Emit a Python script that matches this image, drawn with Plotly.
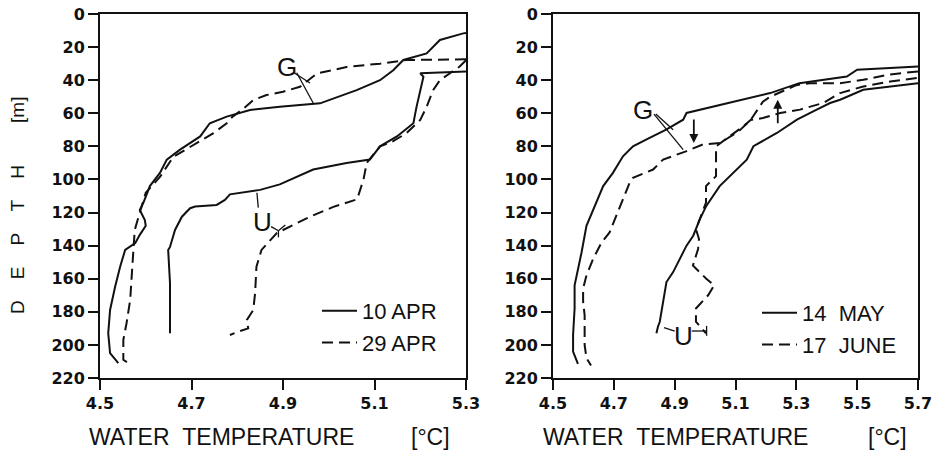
import plotly.graph_objects as go

# ---------------- data (temperature °C, depth m) ----------------
# Left panel: 10 APR (solid) and 29 APR (dashed)
g_apr10_t = [5.300, 5.294, 5.243, 5.214, 5.163, 5.141, 5.112, 5.061, 4.981, 4.893, 4.828, 4.777,
             4.740, 4.719, 4.675, 4.646, 4.631, 4.609, 4.595, 4.587, 4.598, 4.600, 4.587, 4.577,
             4.555, 4.544, 4.533, 4.522, 4.518, 4.522, 4.540]
g_apr10_d = [11.5, 11.7, 15.7, 23.8, 27.8, 34, 40, 46, 54, 56, 58, 62,
             66, 74, 82, 88, 96, 104, 114, 118.5, 124.5, 128, 133.5, 138.5,
             142.6, 152.7, 164.8, 178.9, 193, 205, 211]

u_apr10_t = [5.300, 5.200, 5.207, 5.200, 5.192, 5.185, 5.149, 5.112, 5.090, 5.039, 4.966, 4.893,
             4.850, 4.784, 4.773, 4.755, 4.708, 4.697, 4.679, 4.664, 4.653, 4.649, 4.653, 4.653]
u_apr10_d = [34.8, 35.8, 37.9, 46, 56, 66, 74, 80, 88, 90, 94, 103,
             106.3, 109, 112.4, 115.4, 116.4, 117.4, 122.5, 130.5, 140.8, 142.6, 162.7, 193]

g_apr29_t = [5.300, 5.170, 5.112, 5.039, 4.974, 4.937, 4.900, 4.864, 4.835, 4.810, 4.790, 4.777,
             4.748, 4.712, 4.660, 4.631, 4.600, 4.587, 4.576, 4.573, 4.569, 4.566, 4.558, 4.551,
             4.551, 4.562]
g_apr29_d = [27.4, 27.8, 30, 32, 36, 44, 47, 49, 52, 58, 62, 66,
             72, 78, 86.4, 98.5, 108, 120, 130.5, 142.6, 156.7, 172.8, 186.9, 197,
             209, 211]

u_apr29_t = [5.300, 5.285, 5.265, 5.243, 5.228, 5.214, 5.200, 5.170, 5.140, 5.112, 5.083, 5.076,
             5.062, 5.010, 4.959, 4.915, 4.886, 4.853, 4.842, 4.839, 4.835, 4.821, 4.824, 4.802,
             4.784]
u_apr29_d = [28, 32, 35.8, 40, 46, 56, 64, 72, 77, 80, 90, 100,
             112, 116.6, 122.5, 128.5, 132.5, 142.6, 152.7, 168.8, 178.9, 184.9, 190, 192,
             194]

# Right panel: 14 MAY (solid) and 17 JUNE (dashed)
g_may14_t = [5.700, 5.500, 5.466, 5.310, 5.214, 5.080, 5.015, 4.939, 4.928, 4.872, 4.806, 4.763,
             4.730, 4.697, 4.665, 4.632, 4.610, 4.594, 4.582, 4.571, 4.571, 4.566, 4.566, 4.582]
g_may14_d = [31.7, 33.7, 37.8, 41.8, 47.8, 53.8, 56.8, 59.8, 63.9, 69.9, 75.9, 80,
             86, 96, 104, 118, 128, 144, 154, 164, 178, 194, 204, 211.4]

u_may14_t = [5.700, 5.609, 5.520, 5.444, 5.411, 5.367, 5.302, 5.236, 5.159, 5.137, 5.082, 5.048,
             5.004, 4.983, 4.961, 4.939, 4.917, 4.895, 4.873, 4.862, 4.851, 4.845, 4.840]
u_may14_d = [41.8, 43.8, 45.8, 51.8, 53.8, 57.8, 63.9, 71.9, 79.9, 88, 98, 104,
             116, 124, 134, 140, 148, 156, 162, 174, 186, 189, 193]

g_jun17_t = [5.700, 5.600, 5.520, 5.444, 5.345, 5.300, 5.214, 5.190, 5.150, 5.110, 5.049, 4.990,
             4.937, 4.862, 4.829, 4.763, 4.752, 4.730, 4.709, 4.686, 4.660, 4.632, 4.610, 4.599,
             4.599, 4.604, 4.604, 4.604, 4.610, 4.625]
g_jun17_d = [34.7, 36.7, 39.8, 41.8, 41.8, 43, 50, 53, 64, 71, 78, 79,
             83, 88, 94, 99, 102, 112, 122, 132, 138, 148, 158, 166,
             174, 182, 190, 200, 208, 212.5]

u_jun17_t = [5.696, 5.609, 5.520, 5.444, 5.388, 5.312, 5.247, 5.190, 5.150, 5.125, 5.080, 5.036,
             5.036, 5.036, 5.003, 5.003, 4.970, 4.980, 4.977, 4.960, 5.004, 5.030, 5.010, 4.970,
             4.970, 5.003]
u_jun17_d = [38.7, 40.8, 43.8, 47.8, 53.8, 57.8, 59.8, 62.9, 64, 68, 74, 80,
             90, 98, 104, 114, 130, 136, 142, 152, 160, 164, 170, 178,
             186, 193]

left_ticks = [4.5, 4.7, 4.9, 5.1, 5.3]
right_ticks = [4.5, 4.7, 4.9, 5.1, 5.3, 5.5, 5.7]
depth_ticks = [0, 20, 40, 60, 80, 100, 120, 140, 160, 180, 200, 220]
legend_left = ["10 APR", "29 APR"]
legend_right = ["14  MAY", "17  JUNE"]

# ---------------- figure ----------------
BLACK = "#111111"
FONT = "Liberation Sans, Arial, sans-serif"
TICKFONT = "DejaVu Sans, Verdana, sans-serif"
SOLID = dict(color=BLACK, width=2)
DASH = dict(color=BLACK, width=2, dash="11px,6px")

W, H = 946, 455


def fx(px):
    return px / W


def fy(py):
    return 1 - py / H


fig = go.Figure()


def add(t, d, line, name, show, xa, ya, leg):
    fig.add_trace(go.Scatter(x=t, y=d, mode="lines", line=line, name=name,
                             showlegend=show, xaxis=xa, yaxis=ya, legend=leg,
                             hoverinfo="skip"))


add(g_apr10_t, g_apr10_d, SOLID, legend_left[0], True, "x", "y", "legend")
add(u_apr10_t, u_apr10_d, SOLID, legend_left[0], False, "x", "y", "legend")
add(g_apr29_t, g_apr29_d, DASH, legend_left[1], True, "x", "y", "legend")
add(u_apr29_t, u_apr29_d, DASH, legend_left[1], False, "x", "y", "legend")

add(g_may14_t, g_may14_d, SOLID, legend_right[0], True, "x2", "y2", "legend2")
add(u_may14_t, u_may14_d, SOLID, legend_right[0], False, "x2", "y2", "legend2")
add(g_jun17_t, g_jun17_d, DASH, legend_right[1], True, "x2", "y2", "legend2")
add(u_jun17_t, u_jun17_d, DASH, legend_right[1], False, "x2", "y2", "legend2")

ydom = [fy(378), fy(14)]

axis_common = dict(showline=True, mirror=True, linecolor=BLACK, linewidth=2,
                   ticks="outside", ticklen=10, tickwidth=2, tickcolor=BLACK,
                   showgrid=False, zeroline=False, automargin=False,
                   ticklabeloverflow="allow",
                   tickfont=dict(family=TICKFONT, size=16, color=BLACK, weight="bold"))

legend_font = dict(family=FONT, size=22, color=BLACK)
fig.update_layout(
    template="none",
    width=W, height=H,
    margin=dict(l=0, r=0, t=0, b=0, autoexpand=False),
    paper_bgcolor="white", plot_bgcolor="white",
    xaxis=dict(domain=[fx(100), fx(466)], range=[4.5, 5.3], tickvals=left_ticks,
               ticktext=[f"{v:.1f}" for v in left_ticks], anchor="y", **axis_common),
    yaxis=dict(domain=ydom, range=[220, 0], tickvals=depth_ticks, anchor="x", **axis_common),
    xaxis2=dict(domain=[fx(553), fx(918)], range=[4.5, 5.7], tickvals=right_ticks,
                ticktext=[f"{v:.1f}" for v in right_ticks], anchor="y2", **axis_common),
    yaxis2=dict(domain=ydom, range=[220, 0], tickvals=depth_ticks, anchor="x2", **axis_common),
    legend=dict(x=fx(317), y=fy(290), xanchor="left", yanchor="top",
                bgcolor="rgba(0,0,0,0)", font=legend_font, itemwidth=35, tracegroupgap=0),
    legend2=dict(x=fx(757), y=fy(292), xanchor="left", yanchor="top",
                 bgcolor="rgba(0,0,0,0)", font=legend_font, itemwidth=35, tracegroupgap=0),
    showlegend=True,
)

# ---------------- labels & leaders ----------------
txt = dict(family=FONT, size=26, color=BLACK)
ann = []
ann.append(dict(x=4.909, y=32, xref="x", yref="y", text="G", showarrow=False, font=txt))
ann.append(dict(x=4.856, y=125.7, xref="x", yref="y", text="U", showarrow=False, font=txt))
ann.append(dict(x=4.796, y=57.8, xref="x2", yref="y2", text="G", showarrow=False, font=txt))
ann.append(dict(x=4.928, y=194.6, xref="x2", yref="y2", text="U", showarrow=False, font=txt))
# arrows (right panel)
ann.append(dict(x=4.963, y=78, ax=4.963, ay=62.8, xref="x2", yref="y2", axref="x2", ayref="y2",
                text="", showarrow=True, arrowhead=2, arrowsize=1, arrowwidth=1.8,
                arrowcolor=BLACK))
ann.append(dict(x=5.239, y=51.8, ax=5.239, ay=66.9, xref="x2", yref="y2", axref="x2", ayref="y2",
                text="", showarrow=True, arrowhead=2, arrowsize=1, arrowwidth=1.8,
                arrowcolor=BLACK))

# axis titles
title_font = dict(family=FONT, size=23, color=BLACK)
for cx, label in [(221, "WATER\u00a0\u00a0TEMPERATURE"), (430, "[°C]"),
                  (675, "WATER\u00a0\u00a0TEMPERATURE"), (887, "[°C]")]:
    ann.append(dict(x=fx(cx), y=fy(437), xref="paper", yref="paper", xanchor="center",
                    yanchor="middle", text=label, showarrow=False, font=title_font))
sp = "\u00a0" * 4
ann.append(dict(x=fx(18), y=fy(206), xref="paper", yref="paper", xanchor="center",
                yanchor="middle",
                text="D" + sp + "E" + sp + "P" + sp + "T" + sp + "H" + "\u00a0" * 8 + "[m]",
                textangle=-90, showarrow=False, font=dict(family=FONT, size=19, color=BLACK)))
fig.update_layout(annotations=ann)

LW = dict(color=BLACK, width=1.3)
shapes = [
    # left G leaders
    dict(type="line", xref="x", yref="y", x0=4.924, y0=35.5, x1=4.959, y1=41.7, line=LW),
    dict(type="line", xref="x", yref="y", x0=4.930, y0=35.5, x1=4.966, y1=53.8, line=LW),
    # left U leaders
    dict(type="line", xref="x", yref="y", x0=4.846, y0=117, x1=4.843, y1=108, line=LW),
    dict(type="line", xref="x", yref="y", x0=4.874, y0=128.5, x1=4.890, y1=131, line=LW),
    dict(type="line", xref="x", yref="y", x0=4.890, y0=131, x1=4.905, y1=127.5, line=LW),
    dict(type="line", xref="x", yref="y", x0=4.890, y0=131, x1=4.890, y1=135, line=LW),
    # right G leaders
    dict(type="line", xref="x2", yref="y2", x0=4.832, y0=60.5, x1=4.928, y1=82, line=LW),
    dict(type="line", xref="x2", yref="y2", x0=4.838, y0=60.5, x1=4.895, y1=69.9, line=LW),
    # right U leaders
    dict(type="line", xref="x2", yref="y2", x0=4.900, y0=191.6, x1=4.865, y1=189.5, line=LW),
    dict(type="line", xref="x2", yref="y2", x0=4.956, y0=191.6, x1=5.005, y1=191.6, line=LW),
    dict(type="line", xref="x2", yref="y2", x0=5.005, y0=188.5, x1=5.005, y1=194.5, line=LW),
]
fig.update_layout(shapes=shapes)

# remove the browser's default 8px body margin so the figure fills the window exactly
fig.write_html("out.html", config={"displayModeBar": False},
               post_script="document.body.style.margin='0';")
